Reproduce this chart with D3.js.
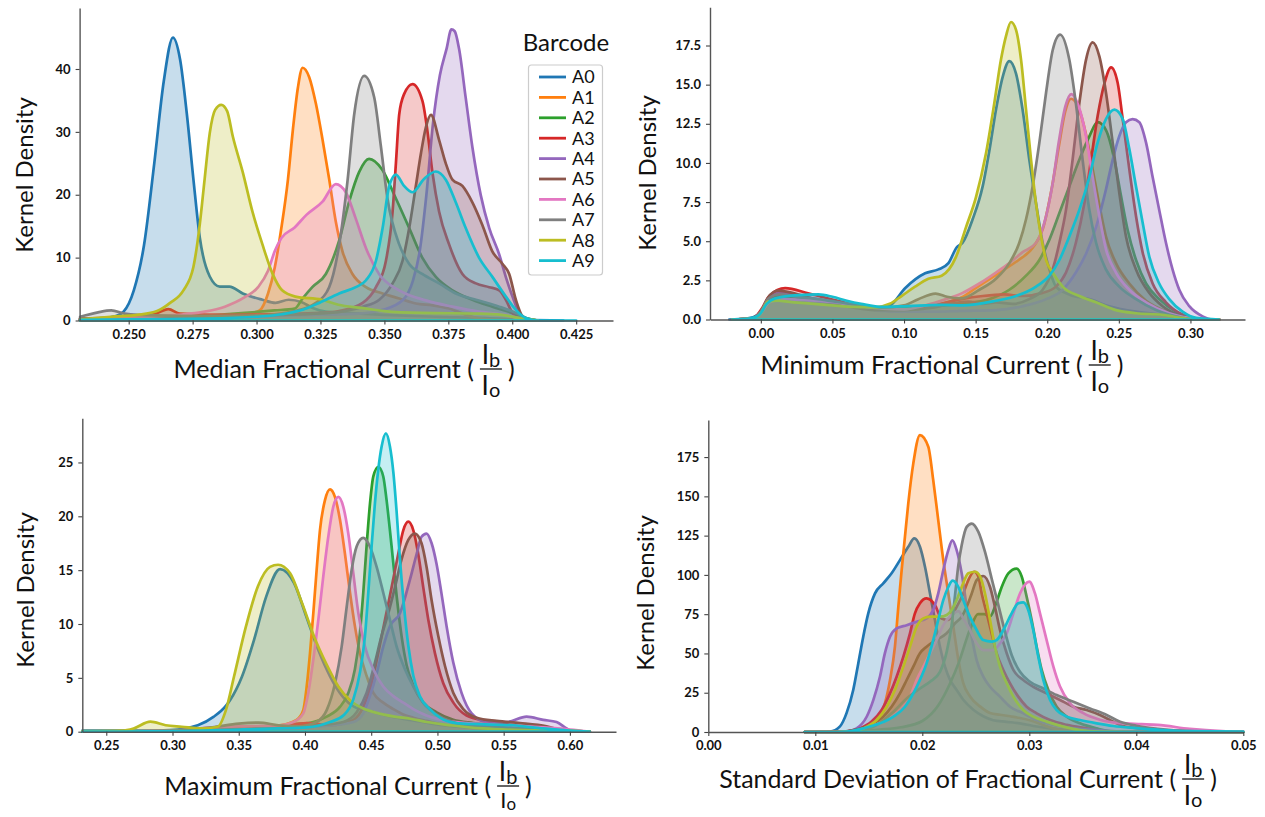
<!DOCTYPE html>
<html><head><meta charset="utf-8">
<script src="https://cdn.jsdelivr.net/npm/d3@7"></script>
<style>body{margin:0;background:#fff}svg{display:block}</style>
</head><body>
<svg id="chart" width="1265" height="817"></svg>
<script>
const barcodes = ["A0","A1","A2","A3","A4","A5","A6","A7","A8","A9"];
const colors = ["#1f77b4","#ff7f0e","#2ca02c","#d62728","#9467bd","#8c564b","#e377c2","#7f7f7f","#bcbd22","#17becf"];

const medianXTicks = [0.250,0.275,0.300,0.325,0.350,0.375,0.400,0.425];
const medianYTicks = [0,10,20,30,40];
const minimumXTicks = [0.00,0.05,0.10,0.15,0.20,0.25,0.30];
const minimumYTicks = [0,2.5,5,7.5,10,12.5,15,17.5];
const maximumXTicks = [0.25,0.30,0.35,0.40,0.45,0.50,0.55,0.60];
const maximumYTicks = [0,5,10,15,20,25];
const stdXTicks = [0.00,0.01,0.02,0.03,0.04,0.05];
const stdYTicks = [0,25,50,75,100,125,150,175];

// Median fractional current: [x, density] per barcode A0..A9
const medianCurves = [
 [[0.231,0.3],[0.240,0.4],[0.245,0.7],[0.248,1.4],[0.252,4.8],[0.256,12],[0.260,25],[0.2637,38],[0.2673,45],[0.2701,41.5],[0.2727,33],[0.2753,22.5],[0.2778,13.2],[0.2817,7],[0.2856,5.4],[0.2894,5.4],[0.2946,4.3],[0.3023,3.3],[0.3074,2.8],[0.3126,3.3],[0.3177,2.9],[0.322,2],[0.327,1.4],[0.335,1.2],[0.350,0.9],[0.370,0.6],[0.390,0.4],[0.405,0.1],[0.420,0]],
 [[0.231,0.3],[0.250,0.4],[0.270,0.6],[0.285,0.7],[0.2954,0.9],[0.3012,1.6],[0.3045,4.3],[0.3071,8.4],[0.3097,14.7],[0.3123,22.5],[0.3142,30.3],[0.3162,37.1],[0.318,40.2],[0.3206,38.7],[0.3232,34.5],[0.3258,28.8],[0.3284,22.5],[0.331,15.7],[0.3336,11],[0.3375,7.4],[0.3428,5.3],[0.3493,4.3],[0.3558,3.5],[0.3623,2.7],[0.3688,2.4],[0.3753,1.9],[0.3819,0.9],[0.387,0.35],[0.395,0.1],[0.405,0]],
 [[0.231,0.1],[0.25,0.4],[0.27,0.6],[0.285,0.9],[0.2954,1.2],[0.307,1.6],[0.3149,1.9],[0.318,3.5],[0.3218,5.3],[0.3271,7.4],[0.3323,12.7],[0.3362,18.9],[0.3401,23.6],[0.344,25.7],[0.3491,24],[0.3545,19.4],[0.3597,14.7],[0.3648,10],[0.3702,6.9],[0.3766,4.8],[0.3844,3.3],[0.3922,2.2],[0.40,1.2],[0.4053,0.4],[0.41,0]],
 [[0.231,0.2],[0.25,0.5],[0.26,1.0],[0.2655,1.8],[0.27,1.1],[0.29,0.9],[0.31,1.0],[0.325,1.2],[0.3323,1.5],[0.3415,2.8],[0.3467,5.3],[0.3506,9.5],[0.3532,17.3],[0.3545,25],[0.3558,32.8],[0.3577,36],[0.361,37.6],[0.3649,34.9],[0.3668,30.2],[0.3688,23.5],[0.3714,17.3],[0.3753,12.1],[0.3805,7.4],[0.3858,5.9],[0.391,5.3],[0.3949,4.8],[0.3975,3.3],[0.4001,1.2],[0.404,0.2],[0.41,0]],
 [[0.231,0.1],[0.26,0.4],[0.29,0.6],[0.32,0.9],[0.34,1.1],[0.3494,1.7],[0.3573,3.3],[0.3612,6.4],[0.3638,11],[0.3664,19.9],[0.369,31.3],[0.3717,39],[0.3743,43.2],[0.3762,46.3],[0.3775,46],[0.3792,43.2],[0.3818,35.4],[0.3844,27.6],[0.3877,19.9],[0.391,14.7],[0.3949,10.5],[0.3975,6.9],[0.4001,3.8],[0.4027,1.2],[0.405,0.2],[0.41,0]],
 [[0.231,0.3],[0.25,0.5],[0.27,0.7],[0.30,0.8],[0.3285,1.2],[0.3415,2.2],[0.348,3.3],[0.3532,5.9],[0.3571,9.5],[0.3597,14.7],[0.3623,21.4],[0.3643,26.6],[0.3662,30.7],[0.3682,32.7],[0.3714,28.7],[0.374,25],[0.3766,22.4],[0.3805,21.4],[0.3844,18.8],[0.3883,15.2],[0.3922,11],[0.3962,9],[0.3988,7.4],[0.4014,3.3],[0.404,0.7],[0.408,0]],
 [[0.231,0.2],[0.2563,0.6],[0.2693,0.9],[0.2797,1.4],[0.2876,2.2],[0.2954,3.7],[0.3006,5.3],[0.3045,7.9],[0.3071,11],[0.3097,13.1],[0.3149,14.8],[0.3195,16.8],[0.3258,18.9],[0.331,21.7],[0.3349,20.4],[0.3388,16.2],[0.3428,11.5],[0.3479,7.4],[0.3558,4.8],[0.3662,3.2],[0.3766,2.2],[0.387,1.4],[0.3975,0.9],[0.4053,0.1],[0.41,0]],
 [[0.231,0.6],[0.238,1.3],[0.2432,1.6],[0.2484,1.1],[0.26,0.8],[0.28,0.7],[0.30,0.8],[0.315,1.5],[0.3232,2.8],[0.3284,5.3],[0.3323,12],[0.3356,22.3],[0.3382,32.8],[0.3421,38.9],[0.346,35.5],[0.3486,27.8],[0.3512,19.4],[0.3558,12.1],[0.3597,9],[0.3648,7.4],[0.3714,5.9],[0.3779,4.3],[0.3858,3.3],[0.3949,2.2],[0.4014,1.2],[0.4053,0.4],[0.41,0]],
 [[0.231,0.2],[0.243,0.6],[0.2534,0.9],[0.2611,1.5],[0.2662,2.8],[0.2714,4.8],[0.2753,8.5],[0.2778,15.3],[0.2797,22.5],[0.2817,29.8],[0.2838,33.5],[0.2862,34.3],[0.2885,33.3],[0.2907,29.3],[0.2946,23.6],[0.2984,17.3],[0.3023,12.1],[0.3062,7.5],[0.310,4.8],[0.3152,3.8],[0.3255,3.3],[0.332,2.5],[0.341,2],[0.350,1.5],[0.3645,1.2],[0.388,1.1],[0.396,0.9],[0.404,0.3],[0.41,0]],
 [[0.231,0.1],[0.25,0.2],[0.28,0.3],[0.30,0.6],[0.31,1.0],[0.318,1.7],[0.3245,2.8],[0.3323,4.3],[0.3388,5.3],[0.3428,6.4],[0.3467,9.5],[0.3493,14.7],[0.3519,21.4],[0.3545,23.2],[0.3575,21.5],[0.361,20.4],[0.3655,22.5],[0.3701,23.7],[0.374,22.4],[0.3779,18.8],[0.3818,14.7],[0.387,10],[0.3923,6.9],[0.3975,3.8],[0.4014,1.7],[0.4053,0.4],[0.41,0],[0.425,0]]
];

// Minimum fractional current
const minimumCurves = [
 [[-0.022,0],[-0.01,0.05],[-0.002,0.3],[0.004,1.0],[0.012,1.5],[0.022,1.45],[0.035,1.25],[0.05,1.05],[0.065,0.9],[0.08,0.75],[0.09,0.9],[0.1007,2.0],[0.1147,2.95],[0.124,3.2],[0.131,3.6],[0.1367,4.6],[0.1409,4.9],[0.1479,6.4],[0.1549,8.5],[0.1596,10.8],[0.1642,13.4],[0.1689,15.5],[0.1735,16.5],[0.1782,15.7],[0.1828,13.4],[0.1875,10.2],[0.1922,7.4],[0.1968,4.9],[0.2015,3.2],[0.2061,2.1],[0.2154,1.6],[0.2294,1.3],[0.2434,0.85],[0.262,0.5],[0.2806,0.3],[0.2992,0.1],[0.31,0],[0.32,0]],
 [[-0.02,0],[-0.006,0.05],[0.0,0.5],[0.006,1.3],[0.014,1.5],[0.03,1.35],[0.05,1.1],[0.07,0.85],[0.085,0.7],[0.10,0.65],[0.115,0.8],[0.13,1.1],[0.14,1.4],[0.15,2.0],[0.16,2.6],[0.17,3.2],[0.18,3.8],[0.19,4.6],[0.197,5.8],[0.203,8.3],[0.208,11.0],[0.2126,13.3],[0.2166,14.1],[0.2215,13.6],[0.2271,11.8],[0.2317,9.6],[0.2364,7.3],[0.241,5.3],[0.248,3.6],[0.2573,2.3],[0.269,1.2],[0.2852,0.45],[0.2992,0.1],[0.31,0],[0.32,0]],
 [[-0.02,0],[-0.006,0.05],[0.0,0.5],[0.006,1.3],[0.014,1.5],[0.03,1.35],[0.05,1.1],[0.07,0.9],[0.085,0.75],[0.10,0.75],[0.12,0.85],[0.14,1.0],[0.1596,1.3],[0.1735,1.9],[0.1852,2.8],[0.1945,3.8],[0.2015,5.1],[0.2085,6.8],[0.2154,8.5],[0.2224,10.2],[0.2294,11.7],[0.2352,12.6],[0.241,12.1],[0.2469,10.2],[0.2515,7.9],[0.2562,5.7],[0.262,3.8],[0.269,2.3],[0.2782,1.3],[0.2899,0.5],[0.3015,0.1],[0.31,0],[0.32,0]],
 [[-0.02,0],[-0.006,0.05],[0.0,0.6],[0.006,1.5],[0.017,2.0],[0.033,1.67],[0.056,1.14],[0.075,0.71],[0.094,0.54],[0.11,0.7],[0.125,1.0],[0.14,1.3],[0.155,1.5],[0.17,1.6],[0.1828,1.5],[0.1968,1.7],[0.2061,2.1],[0.2131,3.0],[0.22,4.9],[0.2259,7.4],[0.2306,10.2],[0.2352,13.0],[0.24,15.1],[0.2446,16.1],[0.2492,15.1],[0.2527,12.8],[0.2573,9.6],[0.262,6.6],[0.2666,4.3],[0.2736,2.3],[0.2829,1.1],[0.2945,0.3],[0.305,0],[0.32,0]],
 [[-0.02,0],[-0.006,0.05],[0.0,0.5],[0.006,1.4],[0.014,1.7],[0.025,1.55],[0.04,1.3],[0.055,1.0],[0.07,0.75],[0.085,0.55],[0.10,0.5],[0.12,0.5],[0.14,0.55],[0.1642,0.6],[0.1828,0.85],[0.1992,1.3],[0.2108,1.9],[0.22,3.0],[0.2271,4.2],[0.2341,5.9],[0.241,8.3],[0.2457,10.2],[0.2503,11.7],[0.255,12.6],[0.2596,12.8],[0.2643,12.6],[0.269,11.3],[0.2736,9.1],[0.2782,7.0],[0.2829,4.9],[0.2875,3.2],[0.2922,1.9],[0.2992,0.85],[0.3085,0.2],[0.3155,0],[0.32,0]],
 [[-0.02,0],[-0.006,0.05],[0.0,0.5],[0.005,1.4],[0.012,1.85],[0.022,1.7],[0.035,1.35],[0.05,1.05],[0.065,0.75],[0.08,0.6],[0.10,0.6],[0.12,0.75],[0.135,1.05],[0.145,1.15],[0.155,1.0],[0.1642,1.1],[0.1759,1.0],[0.1875,1.3],[0.1968,1.9],[0.2038,3.2],[0.2085,4.9],[0.2131,7.0],[0.2177,10.2],[0.2224,13.8],[0.2271,16.6],[0.2317,17.7],[0.2364,16.8],[0.241,14.5],[0.2457,11.3],[0.2503,8.1],[0.255,5.3],[0.262,3.2],[0.2713,1.7],[0.2806,0.85],[0.2945,0.2],[0.305,0],[0.32,0]],
 [[-0.02,0],[-0.006,0.05],[0.0,0.4],[0.006,1.1],[0.015,1.3],[0.03,1.25],[0.05,1.1],[0.07,0.85],[0.085,0.7],[0.10,0.65],[0.115,0.9],[0.1293,1.3],[0.1409,1.7],[0.1526,2.3],[0.1642,3.0],[0.1735,3.6],[0.1828,4.3],[0.1922,4.9],[0.1992,6.6],[0.2038,8.7],[0.208,11.3],[0.2126,13.6],[0.2168,14.4],[0.222,13.6],[0.2271,11.7],[0.2317,9.1],[0.2364,6.6],[0.241,4.5],[0.248,3.0],[0.2573,1.9],[0.269,1.1],[0.2852,0.4],[0.2992,0.1],[0.31,0],[0.32,0]],
 [[-0.02,0],[-0.006,0.05],[0.0,0.5],[0.005,1.3],[0.013,1.6],[0.025,1.45],[0.04,1.3],[0.055,1.1],[0.07,0.9],[0.085,0.75],[0.10,0.9],[0.11,1.3],[0.122,1.65],[0.13,1.45],[0.14,1.35],[0.1526,1.9],[0.1642,2.6],[0.1735,3.6],[0.1805,4.9],[0.1852,6.4],[0.1898,8.5],[0.1945,11.3],[0.1992,14.5],[0.2038,17.2],[0.209,18.2],[0.2154,16.6],[0.22,13.8],[0.2247,10.2],[0.2294,7.0],[0.2341,4.9],[0.241,3.2],[0.2503,2.1],[0.262,1.3],[0.276,0.6],[0.2945,0.1],[0.305,0],[0.32,0]],
 [[-0.02,0],[-0.006,0.05],[0.0,0.4],[0.005,1.15],[0.012,1.2],[0.02,1.12],[0.033,1.03],[0.05,0.9],[0.065,0.8],[0.08,0.78],[0.09,1.0],[0.0983,1.5],[0.1077,2.1],[0.117,2.6],[0.1263,2.8],[0.1363,4.0],[0.1433,5.9],[0.1502,7.8],[0.1572,10.6],[0.163,13.8],[0.1677,16.6],[0.1712,18.1],[0.1747,19.0],[0.1782,18.5],[0.1817,16.6],[0.1852,13.4],[0.1887,10.2],[0.1922,7.4],[0.1957,5.3],[0.1992,3.8],[0.2038,3.0],[0.2108,2.1],[0.2224,1.5],[0.2341,1.1],[0.248,0.6],[0.262,0.4],[0.2806,0.3],[0.2945,0.1],[0.304,0],[0.32,0]],
 [[-0.02,0],[-0.008,0.05],[-0.001,0.3],[0.004,1.0],[0.0099,1.35],[0.0262,1.56],[0.0402,1.6],[0.05,1.45],[0.06,1.2],[0.07,1.0],[0.085,0.8],[0.103,0.86],[0.1263,0.93],[0.1409,0.9],[0.1642,1.2],[0.1782,1.5],[0.1922,2.1],[0.2015,2.8],[0.2085,3.8],[0.2154,5.3],[0.2224,7.0],[0.2294,9.1],[0.2352,11.3],[0.241,12.8],[0.2469,13.4],[0.2527,12.8],[0.2573,10.9],[0.262,8.5],[0.2666,6.2],[0.2713,4.0],[0.2782,2.3],[0.2852,1.3],[0.2945,0.5],[0.304,0.1],[0.32,0]]
];

// Maximum fractional current
const maximumCurves = [
 [[0.232,0.1],[0.28,0.1],[0.2979,0.15],[0.3191,0.6],[0.3312,1.4],[0.3403,2.4],[0.3433,2.9],[0.3524,5.1],[0.3615,8.5],[0.3706,12.5],[0.3812,15.1],[0.3918,13.8],[0.401,10.7],[0.41,7.6],[0.4191,5.1],[0.4282,3.3],[0.4373,2.3],[0.4494,1.9],[0.4615,1.5],[0.4736,1.2],[0.4888,0.9],[0.5039,0.6],[0.5342,0.3],[0.5645,0.15],[0.60,0.05],[0.615,0]],
 [[0.232,0],[0.30,0.05],[0.34,0.3],[0.36,0.45],[0.3811,0.6],[0.3937,1.1],[0.3987,2.0],[0.4013,4.2],[0.4038,7.3],[0.4063,11],[0.4088,15],[0.4113,18.7],[0.4151,21.5],[0.4189,22.5],[0.4226,21.8],[0.4264,19.7],[0.4302,16.5],[0.434,12.9],[0.4377,9.8],[0.4415,7.3],[0.4465,5.2],[0.4516,3.6],[0.4591,2.7],[0.4667,2.1],[0.4742,1.6],[0.4818,1.3],[0.4918,1.0],[0.5069,0.6],[0.522,0.5],[0.55,0.4],[0.58,0.2],[0.60,0.05],[0.615,0]],
 [[0.232,0],[0.30,0.05],[0.34,0.2],[0.37,0.4],[0.3937,0.7],[0.4063,0.9],[0.4164,1.4],[0.4264,2.3],[0.4327,3.6],[0.4377,5.8],[0.4415,9.2],[0.444,12.9],[0.4465,17.2],[0.4491,21.2],[0.4516,23.7],[0.4554,24.6],[0.4591,23.7],[0.4616,21.5],[0.4654,17.2],[0.4692,12.6],[0.4729,8.9],[0.4767,6.2],[0.4818,4.3],[0.4893,2.7],[0.4994,1.8],[0.512,1.1],[0.527,0.8],[0.55,0.5],[0.58,0.3],[0.60,0.1],[0.615,0]],
 [[0.232,0],[0.30,0.05],[0.35,0.3],[0.38,0.5],[0.4013,0.8],[0.4189,0.6],[0.4365,1.1],[0.444,2.3],[0.4503,4.5],[0.4553,7.3],[0.4604,10.4],[0.4654,13.4],[0.4704,16.5],[0.4742,18.7],[0.478,19.5],[0.4818,18.7],[0.4855,16.5],[0.4893,13.4],[0.4931,10.4],[0.4981,7.3],[0.5044,4.5],[0.512,2.7],[0.522,1.5],[0.5371,1.0],[0.5572,0.6],[0.5824,0.3],[0.6025,0],[0.615,0]],
 [[0.232,0],[0.30,0.05],[0.35,0.2],[0.40,0.4],[0.42,0.6],[0.4365,0.9],[0.444,1.7],[0.449,3.3],[0.4541,5.4],[0.4591,7.9],[0.4641,9.8],[0.4717,11.0],[0.4792,14.1],[0.4843,16.5],[0.488,18.1],[0.4918,18.4],[0.4956,17.5],[0.4993,15.6],[0.5031,12.8],[0.5069,9.8],[0.512,6.4],[0.5182,3.6],[0.5258,1.7],[0.5371,0.9],[0.5522,0.9],[0.5673,1.4],[0.5799,1.1],[0.5899,0.9],[0.5975,0.3],[0.6025,0],[0.615,0]],
 [[0.232,0],[0.30,0.05],[0.35,0.3],[0.38,0.4],[0.4113,0.6],[0.4289,0.9],[0.439,1.8],[0.4465,3.6],[0.4528,6.4],[0.4578,8.9],[0.4629,11.0],[0.4679,13.4],[0.4729,16.0],[0.478,17.8],[0.483,18.4],[0.488,17.5],[0.4918,15.3],[0.4956,12.2],[0.5006,8.9],[0.5057,6.1],[0.512,3.6],[0.5195,2.1],[0.5296,1.3],[0.5447,1.0],[0.5623,0.8],[0.5824,0.5],[0.60,0],[0.615,0]],
 [[0.232,0],[0.30,0.1],[0.33,0.4],[0.35,0.5],[0.37,0.55],[0.3811,0.6],[0.3912,0.9],[0.3987,1.7],[0.4025,3.6],[0.4063,6.7],[0.4101,10.4],[0.4138,14.4],[0.4176,18.1],[0.4214,20.9],[0.4252,21.8],[0.4289,20.9],[0.4327,18.4],[0.4365,14.7],[0.4403,11],[0.4453,7.9],[0.4516,5.8],[0.4591,4.2],[0.4667,3.3],[0.4742,2.7],[0.4818,2.1],[0.4918,1.5],[0.5069,1.0],[0.522,0.8],[0.5371,0.7],[0.55,0.6],[0.58,0.4],[0.60,0.2],[0.615,0]],
 [[0.232,0],[0.30,0.1],[0.33,0.4],[0.35,0.75],[0.365,0.85],[0.38,0.6],[0.3962,0.5],[0.4088,0.9],[0.4164,2.0],[0.4227,4.5],[0.4277,7.9],[0.4315,11.6],[0.4352,15],[0.439,17.2],[0.444,18],[0.449,17.2],[0.4541,15.3],[0.4591,12.9],[0.4641,10.4],[0.4692,7.9],[0.4755,5.8],[0.4818,4.2],[0.4893,2.7],[0.4969,1.8],[0.5069,1.1],[0.522,0.6],[0.55,0.4],[0.58,0.2],[0.60,0.05],[0.615,0]],
 [[0.232,0.05],[0.2615,0.1],[0.2706,0.3],[0.2833,0.93],[0.2948,0.6],[0.307,0.46],[0.3221,0.3],[0.3342,0.46],[0.3403,2.0],[0.3464,5.1],[0.3555,9.8],[0.3645,13.5],[0.3736,15.3],[0.3797,15.5],[0.3888,14.7],[0.3979,11.9],[0.407,8.8],[0.4161,6.3],[0.4252,4.2],[0.4342,2.9],[0.4433,2.2],[0.4555,1.7],[0.4676,1.4],[0.4797,1.2],[0.4918,0.9],[0.51,0.6],[0.5342,0.3],[0.5645,0.15],[0.60,0.1],[0.615,0]],
 [[0.232,0],[0.30,0.05],[0.35,0.2],[0.38,0.3],[0.4013,0.4],[0.4189,0.9],[0.4289,1.5],[0.4365,3.0],[0.4415,5.5],[0.4453,8.9],[0.4478,12.9],[0.4503,17.2],[0.4528,21.2],[0.4553,24.3],[0.4579,26.5],[0.4611,27.7],[0.4641,26.5],[0.4667,24.1],[0.4692,20.4],[0.4717,16],[0.4747,11.7],[0.478,8.0],[0.4818,5.2],[0.4868,3.3],[0.4943,2.1],[0.5019,1.3],[0.5145,0.8],[0.532,0.7],[0.5572,0.6],[0.58,0.3],[0.60,0.1],[0.615,0]]
];

// Standard deviation of fractional current
const stdCurves = [
 [[0.009,0],[0.0104,0.1],[0.01137,0.3],[0.01231,3.6],[0.01292,12],[0.01355,26.9],[0.01402,43.8],[0.01448,60.7],[0.01495,75.5],[0.01558,88.2],[0.01635,94.6],[0.01713,101],[0.01791,109.4],[0.01869,117.9],[0.01925,123.2],[0.01978,117.9],[0.02025,105.2],[0.02072,88.2],[0.02118,71.3],[0.02165,54.3],[0.02212,41.6],[0.02259,33.2],[0.02321,26.8],[0.02383,20.5],[0.02477,14.2],[0.0257,10],[0.02664,7.5],[0.02789,6.5],[0.02913,5.5],[0.03069,3.5],[0.03225,2],[0.0345,0.8],[0.037,0.2],[0.04,0],[0.05,0]],
 [[0.009,0],[0.011,0],[0.01292,0.2],[0.01448,2.3],[0.01573,7.6],[0.0165,18.1],[0.01698,33],[0.01744,54.2],[0.01776,79.7],[0.01807,103],[0.01838,124.3],[0.01869,145.5],[0.01916,171],[0.01978,189],[0.02056,181.6],[0.02102,160.4],[0.02149,134.9],[0.02196,109.5],[0.02243,88.3],[0.0229,67.1],[0.02337,45.9],[0.02383,31.1],[0.02446,22.6],[0.02539,16.3],[0.02633,12.1],[0.02726,11],[0.0282,10],[0.02913,8.9],[0.03037,6.8],[0.03162,3.6],[0.03287,1.5],[0.03474,0.4],[0.038,0],[0.05,0]],
 [[0.009,0],[0.012,0],[0.014,0.5],[0.016,1.5],[0.018,3],[0.02,7],[0.0215,17],[0.0226,31],[0.0234,44],[0.0245,66],[0.0252,75],[0.0258,75],[0.0263,73.5],[0.027,84],[0.02742,92.3],[0.02804,101],[0.02882,104],[0.02929,99],[0.02975,86.2],[0.03022,71.3],[0.03069,54.3],[0.03116,39.5],[0.03178,26.7],[0.03256,16.1],[0.0335,9.8],[0.03474,5.5],[0.0363,2.3],[0.03785,0.3],[0.04,0],[0.05,0]],
 [[0.009,0],[0.012,0],[0.01292,0.2],[0.01417,2.3],[0.01526,6.6],[0.0162,14],[0.01698,24.6],[0.0176,35.2],[0.01823,48],[0.01885,62.8],[0.01931,75.5],[0.01978,81.9],[0.0204,85],[0.02118,80.8],[0.0218,72.3],[0.02243,71.3],[0.02321,79.7],[0.02383,88.2],[0.0243,96.7],[0.02484,102],[0.02524,98.8],[0.02555,88.2],[0.02602,75.5],[0.02648,62.8],[0.02695,50.1],[0.02757,39.5],[0.0282,31],[0.02897,22.5],[0.02975,16.1],[0.03069,11.9],[0.03194,7.6],[0.0335,4.5],[0.03536,2.3],[0.03723,0.2],[0.04,0],[0.05,0]],
 [[0.009,0],[0.012,0],[0.01292,0.2],[0.01386,2.3],[0.0148,9.7],[0.01542,20.3],[0.01604,35.2],[0.0165,50],[0.01698,60.6],[0.0176,65.9],[0.01854,68],[0.01947,70.2],[0.0204,72.3],[0.02102,77.6],[0.02149,88.2],[0.02196,103],[0.02243,115.8],[0.02281,122],[0.02321,115.8],[0.02368,101],[0.02415,79.7],[0.02462,60.6],[0.02508,45.8],[0.0257,35.2],[0.02633,28.8],[0.02726,22.5],[0.0282,16.1],[0.02944,11.9],[0.03069,7.6],[0.03225,4.5],[0.03412,2.3],[0.0363,1.2],[0.0385,0.3],[0.041,0],[0.05,0]],
 [[0.009,0],[0.012,0],[0.01355,1.2],[0.01511,4.5],[0.01635,9.8],[0.01713,16.1],[0.01791,24.6],[0.01854,33.1],[0.01916,41.6],[0.01978,50.1],[0.0204,54.3],[0.02134,58.6],[0.02228,62.8],[0.02306,69.2],[0.02368,73.4],[0.02415,79.7],[0.02462,88.2],[0.02508,96.7],[0.0257,99.3],[0.02633,92.3],[0.02679,79.7],[0.02726,64.9],[0.02789,50.1],[0.02851,39.5],[0.02944,33.1],[0.03037,28.8],[0.03162,24.6],[0.03287,20.4],[0.03412,16.1],[0.03536,14],[0.03661,10.8],[0.03785,6.6],[0.03848,4.5],[0.04,2.5],[0.043,1],[0.046,0.3],[0.05,0]],
 [[0.009,0],[0.012,0],[0.01355,0.5],[0.01511,3.4],[0.01667,7.6],[0.01791,14],[0.01885,22.5],[0.01947,33.1],[0.0201,41.6],[0.02072,50.1],[0.02134,58.6],[0.02196,68],[0.0229,75.4],[0.02337,77],[0.02383,72.3],[0.02446,64.9],[0.02508,56.4],[0.0257,52.1],[0.02664,52.1],[0.02726,56.4],[0.02789,62.8],[0.02851,75.5],[0.02913,88.2],[0.03,95.7],[0.03053,88.2],[0.031,75.5],[0.03162,58.5],[0.03225,41.6],[0.03287,28.9],[0.03381,18.3],[0.03505,12],[0.0366,7.8],[0.03848,5.6],[0.0405,5],[0.042,4.5],[0.045,2],[0.048,0.6],[0.05,0.3]],
 [[0.009,0],[0.012,0],[0.01417,1.0],[0.01573,4.4],[0.0173,12.9],[0.01854,21.3],[0.01978,27.7],[0.02072,32],[0.02165,38.3],[0.02228,51],[0.02274,68],[0.02306,87.1],[0.02337,106.2],[0.02368,118.9],[0.02415,130.6],[0.02462,132.7],[0.02524,127.4],[0.02586,114.6],[0.02648,97.7],[0.02711,80.8],[0.02773,63.8],[0.02835,49],[0.02913,38.3],[0.03006,32],[0.03131,27.7],[0.03256,23.5],[0.03412,19.2],[0.03567,15],[0.03723,10.8],[0.03848,6.5],[0.04,4],[0.042,2],[0.045,0.5],[0.05,0]],
 [[0.009,0],[0.012,0],[0.01323,0.2],[0.01448,2.3],[0.01573,7.6],[0.01667,16.1],[0.01744,26.7],[0.01823,41.6],[0.01885,54.3],[0.01947,67],[0.0201,72.3],[0.02072,73.4],[0.02165,73.4],[0.02228,74.5],[0.02274,77.6],[0.02321,84],[0.02368,92.3],[0.0243,101],[0.02493,102],[0.0254,99.1],[0.02586,88.2],[0.02633,71.3],[0.02679,54.3],[0.02726,41.6],[0.02789,31],[0.02851,22.5],[0.02944,14],[0.03037,9.8],[0.03162,6.6],[0.03318,3.4],[0.03474,1.2],[0.03661,0.3],[0.04,0],[0.05,0]],
 [[0.009,0],[0.012,0],[0.01292,0.2],[0.01448,2.3],[0.01604,5.5],[0.0173,9.8],[0.01838,16.1],[0.01916,24.6],[0.01978,33.1],[0.0204,43.7],[0.02102,58.5],[0.02149,71.3],[0.02196,83.9],[0.02243,92.3],[0.02284,96.3],[0.02337,92.3],[0.02383,83.9],[0.02446,73.3],[0.02508,64.9],[0.0257,58.5],[0.02648,57.5],[0.02695,58.5],[0.02757,64.9],[0.02835,75.5],[0.02897,81.9],[0.02944,82.5],[0.0299,77.7],[0.03037,64.9],[0.03084,48],[0.03131,33.1],[0.03194,20.4],[0.03256,14],[0.0335,9.8],[0.03474,7.6],[0.0363,5.5],[0.03785,3.8],[0.04,2.5],[0.042,1.5],[0.045,0.5],[0.05,0.2]]
];

const svg = d3.select("#chart");
const FONT = "Lato, 'Open Sans', sans-serif";

const panels = [
  {curves: medianCurves, xDomain:[0.2308,0.4394], xRange:[79.6,613], yDomain:[0,49.7], yRange:[320.5,8],
   xTicks: medianXTicks, yTicks: medianYTicks, xFmt: d3.format(".3f"), yFmt: d3.format("d"),
   xLabel: "Median Fractional Current (", labelBase: 378, labelCx: 344, denMax: 999, denSize: 26, yLabelX: 33, yLabelY: 175, legend: true},
  {curves: minimumCurves, xDomain:[-0.0355,0.3381], xRange:[710,1245], yDomain:[0,19.94], yRange:[319.5,7.3],
   xTicks: minimumXTicks, yTicks: minimumYTicks, xFmt: d3.format(".2f"), yFmt: d3.format(".1f"),
   xLabel: "Minimum Fractional Current (", labelBase: 374, labelCx: 942, denMax: 999, denSize: 26, yLabelX: 656, yLabelY: 173},
  {curves: maximumCurves, xDomain:[0.2319,0.6348], xRange:[82.3,616], yDomain:[0,29.1], yRange:[731.7,418.3],
   xTicks: maximumXTicks, yTicks: maximumYTicks, xFmt: d3.format(".2f"), yFmt: d3.format("d"),
   xLabel: "Maximum Fractional Current (", labelBase: 795, labelCx: 348, denMax: 808, denSize: 22, yLabelX: 34, yLabelY: 590},
  {curves: stdCurves, xDomain:[0,0.05], xRange:[708.3,1243.3], yDomain:[0,198.6], yRange:[732,420],
   xTicks: stdXTicks, yTicks: stdYTicks, xFmt: d3.format(".2f"), yFmt: d3.format("d"),
   xLabel: "Standard Deviation of Fractional Current (", labelBase: 788, labelCx: 968, denMax: 999, denSize: 26, yLabelX: 654, yLabelY: 593}
];

panels.forEach(p => {
  const g = svg.append("g");
  const x = d3.scaleLinear().domain(p.xDomain).range(p.xRange);
  const y = d3.scaleLinear().domain(p.yDomain).range(p.yRange);
  const area = d3.area().x(d => x(d[0])).y0(y(0)).y1(d => y(d[1])).curve(d3.curveMonotoneX);

  p.curves.forEach((pts, i) => {
    g.append("path").attr("d", area(pts))
      .attr("fill", colors[i]).attr("fill-opacity", 0.25)
      .attr("stroke", colors[i]).attr("stroke-width", 2.7)
      .attr("stroke-linejoin", "round");
  });

  const xa = g.append("g").attr("transform", `translate(0,${p.yRange[0]})`)
    .call(d3.axisBottom(x).tickValues(p.xTicks).tickFormat(p.xFmt).tickSize(4).tickSizeOuter(0).tickPadding(5));
  const ya = g.append("g").attr("transform", `translate(${p.xRange[0]},0)`)
    .call(d3.axisLeft(y).tickValues(p.yTicks).tickFormat(p.yFmt).tickSize(4).tickSizeOuter(0).tickPadding(5));
  [xa, ya].forEach(a => {
    a.select(".domain").attr("stroke", "#555").attr("stroke-width", 1.4);
    a.selectAll(".tick line").attr("stroke", "#444").attr("stroke-width", 1.1);
    a.selectAll(".tick text").attr("font-family", FONT).attr("font-weight", "bold")
      .attr("font-size", 13).attr("fill", "#111");
  });

  // y label
  g.append("text").attr("transform", `translate(${p.yLabelX},${p.yLabelY}) rotate(-90)`)
    .attr("text-anchor", "middle").attr("font-family", FONT).attr("font-size", 24).attr("fill", "#111")
    .text("Kernel Density");

  // x label with fraction
  const lg = g.append("g");
  const t1 = lg.append("text").attr("font-family", FONT).attr("font-size", 25).attr("fill", "#111")
    .attr("y", p.labelBase).text(p.xLabel);
  const w1 = t1.node().getComputedTextLength();
  const fracW = 22, gap = 6;
  const t2 = lg.append("text").attr("font-family", FONT).attr("font-size", 25).attr("fill", "#111")
    .attr("y", p.labelBase).text(")");
  const w2 = t2.node().getComputedTextLength();
  const total = w1 + gap + fracW + gap + w2;
  const sx = p.labelCx - total / 2;
  t1.attr("x", sx);
  const fx = sx + w1 + gap;
  t2.attr("x", fx + fracW + gap);
  const barY = p.labelBase - 9;
  lg.append("line").attr("x1", fx).attr("x2", fx + fracW).attr("y1", barY).attr("y2", barY)
    .attr("stroke", "#111").attr("stroke-width", 1.3);
  const num = lg.append("text").attr("x", fx + fracW / 2).attr("y", barY - 5).attr("text-anchor", "middle")
    .attr("font-family", FONT).attr("font-size", 26).attr("fill", "#111");
  num.append("tspan").text("I");
  num.append("tspan").attr("font-size", 20).attr("dy", 3).text("b");
  const denY = Math.min(barY + 26, p.denMax);
  const den = lg.append("text").attr("x", fx + fracW / 2).attr("y", denY).attr("text-anchor", "middle")
    .attr("font-family", FONT).attr("font-size", p.denSize).attr("fill", "#111");
  den.append("tspan").text("I");
  den.append("tspan").attr("font-size", p.denSize * 0.77).attr("dy", 2).text("o");

  if (p.legend) {
    const L = svg.append("g");
    L.append("text").attr("x", 566).attr("y", 51).attr("text-anchor", "middle")
      .attr("font-family", FONT).attr("font-size", 24).attr("fill", "#111").text("Barcode");
    L.append("rect").attr("x", 528.5).attr("y", 65).attr("width", 74).attr("height", 210)
      .attr("rx", 3).attr("fill", "#fff").attr("fill-opacity", 0.8).attr("stroke", "#ccc").attr("stroke-width", 1.2);
    barcodes.forEach((b, i) => {
      const yy = 77 + i * 20.4;
      L.append("line").attr("x1", 539).attr("x2", 566).attr("y1", yy).attr("y2", yy)
        .attr("stroke", colors[i]).attr("stroke-width", 2.8);
      L.append("text").attr("x", 572).attr("y", yy + 6.3).attr("font-family", FONT)
        .attr("font-size", 18).attr("fill", "#111").text(b);
    });
  }
});
</script>
</body></html>
